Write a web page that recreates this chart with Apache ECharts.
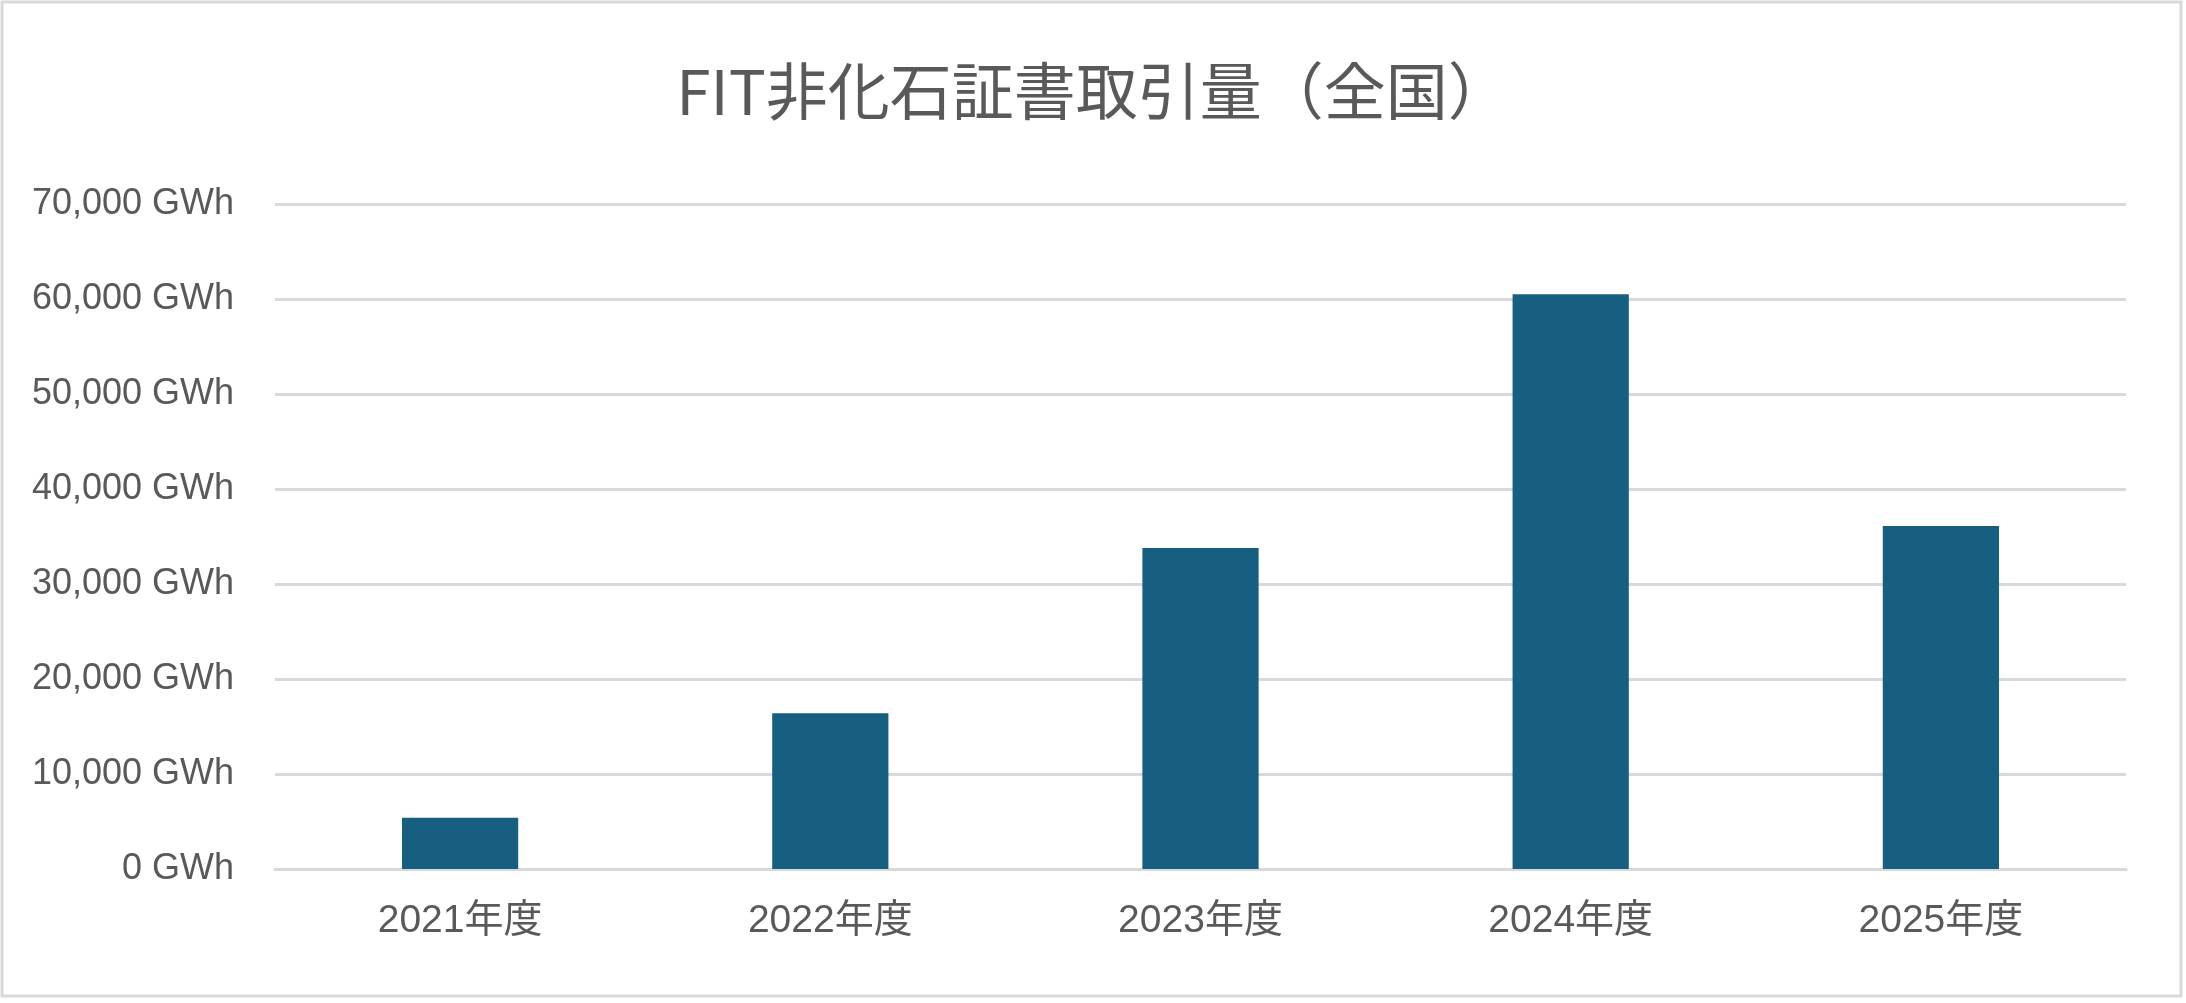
<!DOCTYPE html>
<html>
<head>
<meta charset="utf-8">
<script src="https://cdn.jsdelivr.net/npm/echarts@6/dist/echarts.min.js"></script>
<style>
html,body{margin:0;padding:0;background:#fff;}
#c{width:2186px;height:1003px;}
</style>
</head>
<body>
<div id="c"></div>
<script>
const categories = ['2021年度', '2022年度', '2023年度', '2024年度', '2025年度'];
const volumes = [5400, 16400, 33800, 60500, 36100];
const yTicks = { min: 0, max: 70000, interval: 10000 };
const titleText = 'FIT非化石証書取引量（全国）';

const chart = echarts.init(document.getElementById('c'), null, { renderer: 'canvas' });
const labelFont = '"Liberation Sans", "Noto Sans CJK JP", sans-serif';
chart.setOption({
  backgroundColor: '#ffffff',
  animation: false,
  title: {
    text: titleText,
    left: 'center',
    top: 55,
    textStyle: {
      fontFamily: '"Noto Sans CJK JP", sans-serif',
      fontSize: 62,
      fontWeight: 'normal',
      color: '#595959'
    }
  },
  graphic: [{
    type: 'rect',
    shape: { x: 2, y: 2, width: 2179, height: 994 },
    style: { fill: 'none', stroke: '#d9d9d9', lineWidth: 3 },
    silent: true
  }],
  grid: { left: 275, right: 60, top: 204, bottom: 134, containLabel: false },
  xAxis: {
    type: 'category',
    data: categories,
    axisLine: { show: true, lineStyle: { color: '#d9d9d9', width: 3 } },
    axisTick: { show: false },
    axisLabel: {
      margin: 33,
      fontFamily: labelFont,
      fontSize: 39,
      color: '#595959'
    }
  },
  yAxis: {
    type: 'value',
    min: yTicks.min,
    max: yTicks.max,
    interval: yTicks.interval,
    axisLine: { show: false },
    axisTick: { show: false },
    splitLine: { lineStyle: { color: '#d9d9d9', width: 3 } },
    axisLabel: {
      margin: 41,
      fontFamily: labelFont,
      fontSize: 36,
      color: '#595959',
      formatter: v => v.toLocaleString('en-US') + ' GWh'
    }
  },
  series: [{
    type: 'bar',
    data: volumes,
    barWidth: '31.4%',
    itemStyle: { color: '#175f81' }
  }]
});
</script>
</body>
</html>
